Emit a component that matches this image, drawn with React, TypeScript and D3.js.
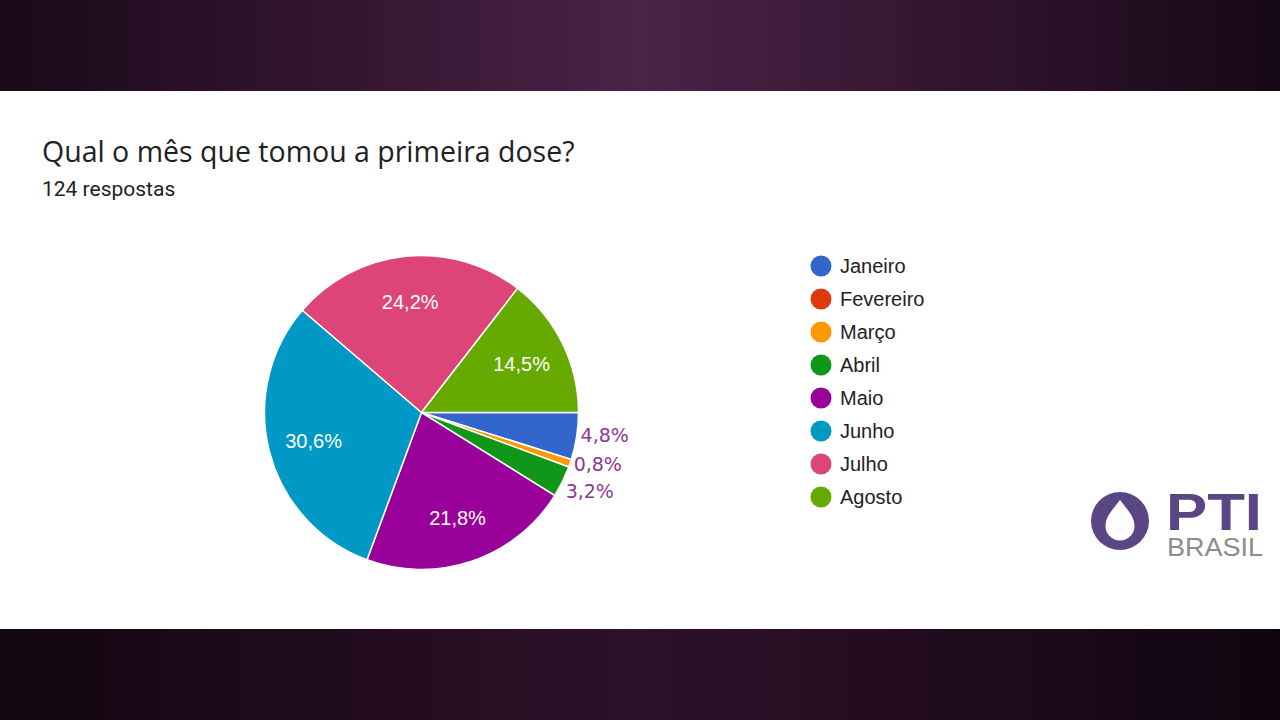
import { useEffect, useRef } from 'react';
import * as d3 from 'd3';

const months = ['Janeiro', 'Fevereiro', 'Março', 'Abril', 'Maio', 'Junho', 'Julho', 'Agosto'];
const counts = [6, 0, 1, 4, 27, 38, 30, 18];
const colors = ['#3366cc', '#dc3912', '#ff9900', '#109618', '#990099', '#0099c6', '#dd4477', '#66aa00'];
const title = 'Qual o mês que tomou a primeira dose?';
const subtitle = '124 respostas';

const App: React.FC = () => {
  const ref = useRef<SVGSVGElement>(null);

  useEffect(() => {
    const svg = d3.select(ref.current);
    svg.selectAll('*').remove();

    const W = 1280;

    // background bands
    const defs = svg.append('defs');
    const gTop = defs.append('linearGradient').attr('id', 'bandTop');
    [['0%', '#1a0919'], ['30%', '#371734'], ['50%', '#4a2347'], ['70%', '#371734'], ['100%', '#170816']]
      .forEach(([o, c]) => gTop.append('stop').attr('offset', o).attr('stop-color', c));
    const gBot = defs.append('linearGradient').attr('id', 'bandBot');
    [['0%', '#12060f'], ['30%', '#230c20'], ['50%', '#2c1229'], ['70%', '#230c20'], ['100%', '#10050e']]
      .forEach(([o, c]) => gBot.append('stop').attr('offset', o).attr('stop-color', c));

    svg.append('rect').attr('width', W).attr('height', 91).attr('fill', 'url(#bandTop)');
    svg.append('rect').attr('y', 91).attr('width', W).attr('height', 538).attr('fill', '#ffffff');
    svg.append('rect').attr('y', 629).attr('width', W).attr('height', 91).attr('fill', 'url(#bandBot)');

    // title
    svg.append('text')
      .attr('x', 42).attr('y', 162)
      .attr('font-family', '"Open Sans", sans-serif')
      .attr('font-size', 28.5)
      .attr('fill', '#202124')
      .text(title);
    svg.append('text')
      .attr('x', 42).attr('y', 196)
      .attr('font-family', 'Roboto, sans-serif')
      .attr('font-size', 21)
      .attr('fill', '#202124')
      .text(subtitle);

    // pie
    const cx = 421.5;
    const cy = 412.5;
    const r = 157;
    const total = d3.sum(counts);

    const data = months.map((m, i) => ({ month: m, value: counts[i], color: colors[i] }));
    const pie = d3.pie<typeof data[0]>()
      .value((d) => d.value)
      .sort(null)
      .startAngle(Math.PI / 2)
      .endAngle(Math.PI / 2 + 2 * Math.PI);
    const arcs = pie(data).filter((a) => a.data.value > 0);

    const arc = d3.arc<d3.PieArcDatum<typeof data[0]>>().innerRadius(0).outerRadius(r);
    const labelArc = d3.arc<d3.PieArcDatum<typeof data[0]>>().innerRadius(r * 0.42).outerRadius(r * 1.0);

    const g = svg.append('g').attr('transform', `translate(${cx},${cy})`);
    g.selectAll('path')
      .data(arcs)
      .enter()
      .append('path')
      .attr('d', arc)
      .attr('fill', (d) => d.data.color)
      .attr('stroke', '#ffffff')
      .attr('stroke-width', 1.5);

    const fmt = (v: number) => ((v / total) * 100).toFixed(1).replace('.', ',') + '%';

    const big = arcs.filter((a) => a.data.value / total >= 0.1);
    g.selectAll('text.in')
      .data(big)
      .enter()
      .append('text')
      .attr('class', 'in')
      .attr('transform', (d) => `translate(${labelArc.centroid(d)})`)
      .attr('text-anchor', 'middle')
      .attr('dy', '0.36em')
      .attr('font-family', 'Arial, "Liberation Sans", sans-serif')
      .attr('font-size', 20)
      .attr('fill', '#ffffff')
      .text((d) => fmt(d.data.value));

    // outside labels with simple vertical spacing
    const small = arcs.filter((a) => a.data.value / total < 0.1);
    const rOut = 165;
    const pos = small.map((d) => {
      const a = (d.startAngle + d.endAngle) / 2;
      return { d, x: Math.sin(a) * rOut, y: -Math.cos(a) * rOut };
    });
    for (let i = 1; i < pos.length; i++) {
      if (pos[i].y - pos[i - 1].y < 27) pos[i].y = pos[i - 1].y + 27;
    }
    g.selectAll('text.out')
      .data(pos)
      .enter()
      .append('text')
      .attr('class', 'out')
      .attr('x', (p) => p.x - 4)
      .attr('y', (p) => p.y - 2)
      .attr('dy', '0.36em')
      .attr('font-family', '"DejaVu Sans", sans-serif')
      .attr('font-size', 19)
      .attr('fill', '#8e3795')
      .text((p) => fmt(p.d.data.value));

    // legend
    const legendY = d3.scalePoint<string>().domain(months).range([266, 497]);
    const legend = svg.append('g');
    const items = legend.selectAll('g')
      .data(data)
      .enter()
      .append('g')
      .attr('transform', (d) => `translate(821,${legendY(d.month)})`);
    items.append('circle').attr('r', 10.5).attr('fill', (d) => d.color);
    items.append('text')
      .attr('x', 19)
      .attr('dy', '0.36em')
      .attr('font-family', 'Arial, "Liberation Sans", sans-serif')
      .attr('font-size', 20)
      .attr('fill', '#222222')
      .text((d) => d.month);

    // logo
    const logo = svg.append('g');
    logo.append('circle').attr('cx', 1120).attr('cy', 521).attr('r', 29).attr('fill', '#5a4585');
    logo.append('path')
      .attr('d', 'M1120,500 C1113.5,509 1105.5,516 1105.5,526 A14.5,14.5 0 0 0 1134.5,526 C1134.5,516 1126.5,509 1120,500 Z')
      .attr('fill', '#ffffff');
    const logoText = logo.append('text')
      .attr('font-family', 'Arial, "Liberation Sans", sans-serif');
    logoText.append('tspan')
      .attr('x', 1166).attr('y', 530)
      .attr('font-weight', 'bold')
      .attr('font-size', 51)
      .attr('fill', '#5a4585')
      .attr('textLength', 96)
      .attr('lengthAdjust', 'spacingAndGlyphs')
      .text('PTI');
    logoText.append('tspan')
      .attr('x', 1167).attr('y', 556)
      .attr('font-size', 25)
      .attr('fill', '#8c8c8c')
      .attr('textLength', 96)
      .attr('lengthAdjust', 'spacingAndGlyphs')
      .text('BRASIL');
  }, []);

  return (
    <div style={{ position: 'fixed', left: 0, top: 0 }}>
      <svg ref={ref} width={1280} height={720} style={{ display: 'block' }}></svg>
    </div>
  );
};

export default App;
